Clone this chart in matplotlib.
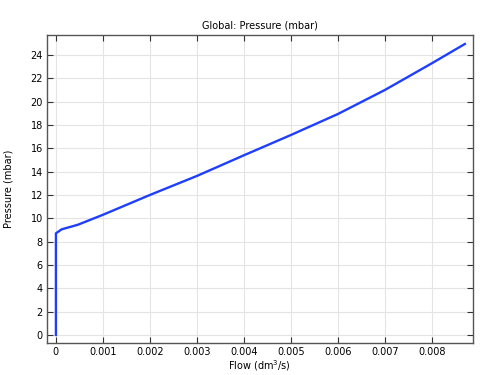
import matplotlib
matplotlib.use("Agg")
import matplotlib.pyplot as plt

# dados
vazao = [0, 0, 0.00012, 0.00047, 0.001, 0.002, 0.003, 0.004, 0.005, 0.006, 0.007, 0.008, 0.0087]
pressao = [0, 8.71, 9.05, 9.45, 10.3, 12.0, 13.63, 15.4, 17.14, 18.94, 21.0, 23.29, 24.94]

xticks = [0, 0.001, 0.002, 0.003, 0.004, 0.005, 0.006, 0.007, 0.008]
xticklabels = ["0", "0.001", "0.002", "0.003", "0.004", "0.005", "0.006", "0.007", "0.008"]
yticks = list(range(0, 25, 2))

fig = plt.figure(figsize=(4.83, 3.75), dpi=100)
ax = fig.add_axes([0.0973, 0.0853, 0.8817, 0.8214])

ax.plot(vazao, pressao, color="#1f3fff", lw=1.7)

ax.set_xlim(-0.00019, 0.00887)
ax.set_ylim(-0.69, 25.71)
ax.set_xticks(xticks)
ax.set_xticklabels(xticklabels)
ax.set_yticks(yticks)

ax.grid(True, color="#e4e4e4", lw=0.8)
ax.set_axisbelow(True)
ax.tick_params(direction="in", top=True, right=True, length=4, width=0.8,
               labelsize=7, pad=3, color="#333333")
for s in ax.spines.values():
    s.set_color("#555555")
    s.set_linewidth(1.0)

ax.set_title("Global: Pressure (mbar)", fontsize=7, pad=5)
ax.set_xlabel("Flow (dm$^3$/s)", fontsize=7, labelpad=1)
ax.set_ylabel("Pressure (mbar)", fontsize=7, labelpad=12)

fig.savefig("out.png", dpi=100)
